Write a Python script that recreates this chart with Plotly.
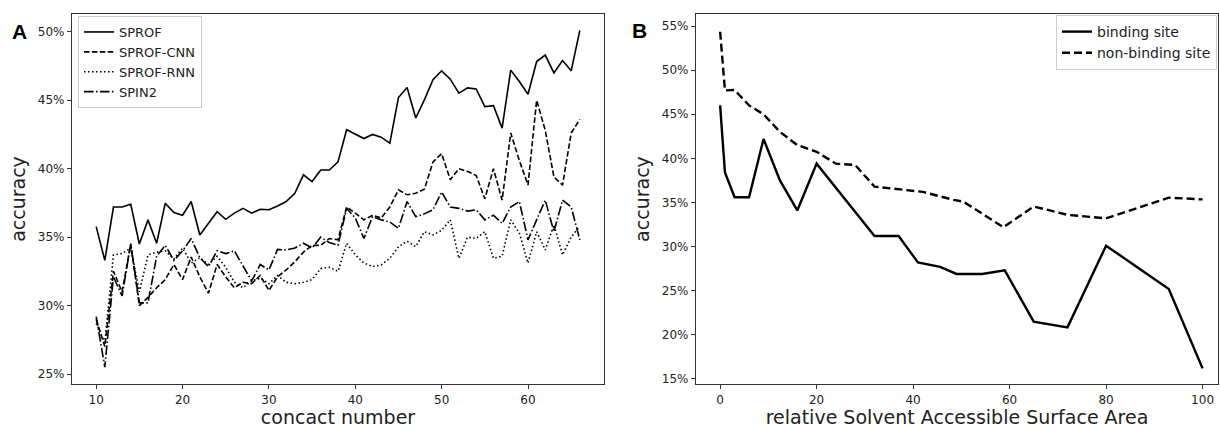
import plotly.graph_objects as go

# ---------------- Panel A data ----------------
contact = list(range(10, 67))
sprof = [35.77, 33.3, 37.2, 37.2, 37.4, 34.5, 36.26, 34.55, 37.48, 36.8,
         36.6, 37.6, 35.16, 36.0, 36.86, 36.3, 36.75, 37.1, 36.75, 37.04,
         37.0, 37.28, 37.6, 38.2, 39.55, 39.06, 39.9, 39.9, 40.5, 42.85,
         42.5, 42.2, 42.5, 42.3, 41.86, 45.2, 45.93, 43.7, 45.03, 46.5,
         47.15, 46.54, 45.52, 45.9, 45.83, 44.54, 44.6, 42.96, 47.2, 46.37,
         45.44, 47.83, 48.3, 47.0, 47.9, 47.15, 50.1]
sprof_cnn = [29.0, 27.0, 32.5, 31.0, 34.5, 30.0, 30.6, 31.3, 31.9, 33.0,
             31.9, 33.55, 32.1, 30.9, 33.0, 32.1, 31.3, 31.7, 31.6, 32.2,
             31.1, 32.1, 32.6, 33.2, 33.9, 34.4, 34.4, 34.9, 34.8, 37.2,
             36.75, 36.26, 36.6, 36.4, 37.2, 38.45, 38.1, 38.2, 38.5, 40.5,
             41.1, 39.2, 40.0, 39.8, 39.5, 37.8, 40.0, 37.7, 42.6, 40.6,
             38.8, 45.0, 42.8, 39.4, 38.8, 42.6, 43.6]
sprof_rnn = [28.7, 27.3, 33.7, 33.8, 34.2, 31.0, 33.7, 33.9, 34.0, 33.4,
             34.2, 33.1, 33.5, 33.0, 33.6, 32.8, 31.7, 31.3, 31.8, 32.0,
             31.6, 32.2, 31.7, 31.6, 31.7, 31.9, 32.7, 32.8, 32.5, 34.55,
             33.7, 33.1, 32.85, 32.97, 33.45, 34.3, 34.7, 34.3, 35.4, 35.16,
             35.5, 36.26, 33.45, 35.0, 34.9, 35.4, 33.45, 33.6, 36.26, 35.3,
             33.1, 35.4, 34.06, 35.9, 33.7, 35.0, 35.8]
spin2 = [29.2, 25.5, 32.1, 30.7, 34.5, 30.2, 30.2, 33.6, 34.4, 33.3,
         34.0, 34.9, 33.5, 32.85, 34.0, 33.8, 34.0, 32.9, 31.8, 33.0,
         32.6, 34.1, 34.06, 34.2, 34.55, 34.2, 35.0, 34.6, 34.4, 37.1,
         36.4, 34.9, 36.5, 36.26, 36.1, 35.65, 37.6, 36.5, 36.7, 37.0,
         38.3, 37.2, 37.1, 36.9, 37.0, 36.26, 36.6, 36.0, 37.2, 37.6,
         34.8, 36.26, 37.7, 35.4, 37.7, 37.2, 34.8]
a_ticks = [25, 30, 35, 40, 45, 50]
a_xticks = [10, 20, 30, 40, 50, 60]

# ---------------- Panel B data ----------------
rsa_binding = [0, 1, 3, 6, 9, 12.4, 16, 20, 32, 37, 41, 45.6, 49, 54.3, 59, 65, 72, 80, 93, 100]
acc_binding = [46.0, 38.4, 35.6, 35.6, 42.2, 37.5, 34.1, 39.4, 31.2, 31.2, 28.2, 27.7,
               26.9, 26.9, 27.3, 21.5, 20.85, 30.1, 25.2, 16.2]
rsa_nonbinding = [0, 1, 3, 6, 9, 12.4, 16, 20, 24, 28, 32, 42, 48.4, 50.4, 58.7, 65, 72, 80, 93, 100]
acc_nonbinding = [54.35, 47.7, 47.75, 46.0, 45.0, 43.0, 41.5, 40.75, 39.4, 39.25, 36.8,
                  36.2, 35.3, 35.1, 32.2, 34.55, 33.6, 33.2, 35.55, 35.35]
b_ticks = [15, 20, 25, 30, 35, 40, 45, 50, 55]
b_xticks = [0, 20, 40, 60, 80, 100]

W, H = 1220, 429
FONT = "DejaVu Sans"

fig = go.Figure()

a_styles = [
    ("SPROF", sprof, "solid"),
    ("SPROF-CNN", sprof_cnn, "5.5px,2.4px"),
    ("SPROF-RNN", sprof_rnn, "1.5px,2.5px"),
    ("SPIN2", spin2, "9.6px,2.4px,1.5px,2.4px"),
]
for name, vals, dash in a_styles:
    fig.add_trace(go.Scatter(x=contact, y=vals, mode="lines", name=name,
                             line=dict(color="black", width=1.6, dash=dash),
                             xaxis="x", yaxis="y", legend="legend"))

fig.add_trace(go.Scatter(x=rsa_binding, y=acc_binding, mode="lines", name="binding site",
                         line=dict(color="black", width=2.4),
                         xaxis="x2", yaxis="y2", legend="legend2"))
fig.add_trace(go.Scatter(x=rsa_nonbinding, y=acc_nonbinding, mode="lines", name="non-binding site",
                         line=dict(color="black", width=2.4, dash="8px,4px"),
                         xaxis="x2", yaxis="y2", legend="legend2"))

axis_common = dict(showgrid=False, zeroline=False, showline=True, linecolor="#333",
                   linewidth=1.2, mirror=True, ticks="outside", ticklen=4,
                   tickcolor="#333", tickfont=dict(family=FONT, size=12, color="#222"))
TITLE_FONT = dict(family=FONT, size=19, color="#222")

fig.update_layout(
    width=W, height=H,
    margin=dict(l=0, r=0, t=14, b=45),
    paper_bgcolor="white", plot_bgcolor="white",
    font=dict(family=FONT, color="#222"),
    xaxis=dict(domain=[72 / W, 604 / W], range=[7.2, 68.8], tickvals=a_xticks,
               ticktext=[str(v) for v in a_xticks],
               title=dict(text="concact number", font=TITLE_FONT, standoff=4),
               anchor="y", **axis_common),
    yaxis=dict(domain=[0, 1], range=[24.27, 51.3], tickvals=a_ticks,
               ticktext=[f"{v}%" for v in a_ticks],
               title=dict(text="accuracy", font=TITLE_FONT, standoff=7),
               anchor="x", **axis_common),
    xaxis2=dict(domain=[696 / W, 1218 / W], range=[-5, 103.2], tickvals=b_xticks,
                ticktext=[str(v) for v in b_xticks],
                title=dict(text="relative Solvent Accessible Surface Area", font=TITLE_FONT, standoff=4),
                anchor="y2", **axis_common),
    yaxis2=dict(domain=[0, 1], range=[14.43, 56.36], tickvals=b_ticks,
                ticktext=[f"{v}%" for v in b_ticks],
                title=dict(text="accuracy", font=TITLE_FONT, standoff=7),
                anchor="x2", **axis_common),
    legend=dict(x=78 / W, y=(384 - 16) / 370, xanchor="left", yanchor="top",
                bgcolor="rgba(255,255,255,0.8)", bordercolor="#ccc", borderwidth=1,
                font=dict(family=FONT, size=13, color="#222"), tracegroupgap=0),
    legend2=dict(x=1217 / W, y=(384 - 15) / 370, xanchor="right", yanchor="top",
                 bgcolor="rgba(255,255,255,0.8)", bordercolor="#ccc", borderwidth=1,
                 font=dict(family=FONT, size=14, color="#222"), tracegroupgap=0),
    annotations=[
        dict(text="<b>A</b>", x=10 / W, y=(384 - 32) / 370, xref="paper", yref="paper",
             xanchor="left", yanchor="middle", showarrow=False,
             font=dict(family="Liberation Sans", size=21, color="black")),
        dict(text="<b>B</b>", x=630 / W, y=(384 - 30) / 370, xref="paper", yref="paper",
             xanchor="left", yanchor="middle", showarrow=False,
             font=dict(family="Liberation Sans", size=21, color="black")),
    ],
)

fig.write_html("out.html", config={"displayModeBar": False},
               post_script="document.body.style.margin='0';document.body.style.overflow='hidden';")
